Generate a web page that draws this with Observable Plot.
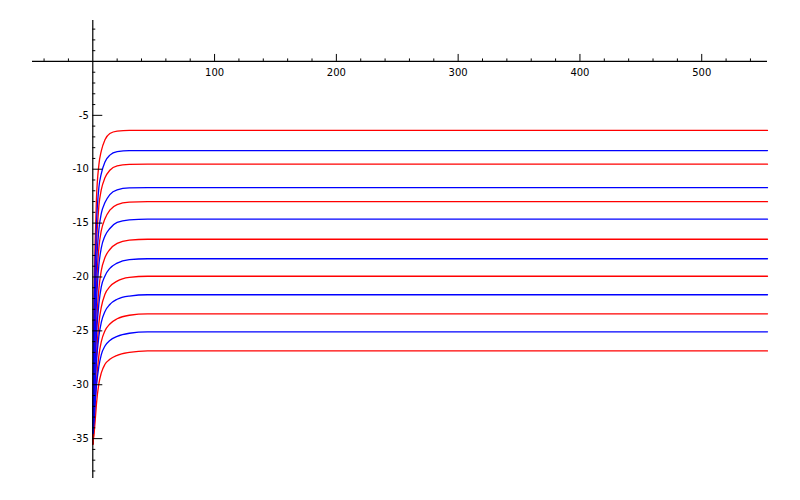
<!DOCTYPE html>
<html>
<head>
<meta charset="utf-8">
<script src="https://cdn.jsdelivr.net/npm/d3@7"></script>
<script src="https://cdn.jsdelivr.net/npm/@observablehq/plot@0.6"></script>
<style>
  html, body { margin: 0; padding: 0; background: #fff; }
  #chart { width: 800px; height: 500px; }
</style>
</head>
<body>
<div id="chart"></div>
<script>
// Sample x positions shared by all curves
const xs = [0, 1, 2, 3, 5, 7, 10, 14, 20, 30, 45, 554];

// Red curves (top to bottom)
const red1 = [-35.5, -22.4, -16.6, -12.8, -9.6, -8.3, -7.27, -6.69, -6.46, -6.4, -6.4, -6.4];
const red2 = [-35.5, -25.9, -20.4, -17.0, -13.4, -11.9, -10.8, -10.1, -9.69, -9.56, -9.53, -9.53];
const red3 = [-35.5, -28.3, -23.6, -20.9, -17.3, -15.7, -14.6, -13.8, -13.28, -13.06, -13.01, -13.01];
const red4 = [-35.5, -31.0, -27.2, -24.6, -21.1, -19.4, -18.2, -17.45, -16.88, -16.58, -16.5, -16.5];
const red5 = [-35.5, -33.2, -29.8, -27.4, -24.3, -22.8, -21.6, -20.9, -20.38, -20.04, -19.93, -19.93];
const red6 = [-35.5, -34.0, -31.6, -29.8, -27.3, -26.0, -25.0, -24.36, -23.88, -23.55, -23.42, -23.42];
const red7 = [-35.5, -34.6, -33.3, -31.8, -29.9, -28.9, -28.1, -27.64, -27.27, -27.0, -26.86, -26.86];

// Blue curves (top to bottom)
const blue1 = [-34.5, -23.8, -18.5, -15.1, -11.7, -10.4, -9.32, -8.69, -8.37, -8.27, -8.27, -8.27];
const blue2 = [-34.5, -26.7, -22.0, -19.0, -15.6, -14.1, -13.1, -12.35, -11.91, -11.74, -11.71, -11.71];
const blue3 = [-34.5, -29.2, -25.2, -22.4, -18.9, -17.3, -16.2, -15.5, -14.94, -14.7, -14.64, -14.64];
const blue4 = [-34.5, -31.3, -27.8, -25.4, -22.5, -20.9, -19.9, -19.2, -18.71, -18.39, -18.31, -18.31];
const blue5 = [-34.5, -32.6, -29.8, -27.9, -25.5, -24.2, -23.2, -22.55, -22.07, -21.77, -21.65, -21.65];
const blue6 = [-34.5, -33.5, -31.6, -30.1, -28.3, -27.2, -26.4, -25.89, -25.51, -25.22, -25.09, -25.09];

const redCurves = [red1, red2, red3, red4, red5, red6, red7];
const blueCurves = [blue1, blue2, blue3, blue4, blue5, blue6];

// Axis ticks
const xMajor = [100, 200, 300, 400, 500];
const xMinor = d3.range(-40, 554, 20).filter(v => v % 100 !== 0);
const yMajor = [-5, -10, -15, -20, -25, -30, -35];
const yMinor = d3.range(-38, 4, 1).filter(v => v % 5 !== 0);

const xDomain = [-49.5, 554];
const yDomain = [-38.7, 3.8];

const rows = [];
redCurves.forEach((c, k) => c.forEach((y, i) => rows.push({id: "r" + k, color: "red", x: xs[i], y})));
blueCurves.forEach((c, k) => c.forEach((y, i) => rows.push({id: "b" + k, color: "blue", x: xs[i], y})));

// tick lengths expressed in data units (≈ pixels / scale)
const pxX = (xDomain[1] - xDomain[0]) / (800 - 32 - 33);
const pxY = (yDomain[1] - yDomain[0]) / (500 - 20 - 22);

const chart = Plot.plot({
  width: 800,
  height: 500,
  marginLeft: 32,
  marginRight: 33,
  marginTop: 20,
  marginBottom: 22,
  x: {domain: xDomain, axis: null},
  y: {domain: yDomain, axis: null},
  style: {fontFamily: "DejaVu Sans", fontSize: "10px", background: "white"},
  marks: [
    Plot.line(rows, {x: "x", y: "y", z: "id", stroke: d => d.color === "red" ? "#ff0000" : "#0000ff", strokeWidth: 1.3, curve: "monotone-x"}),
    // axes lines
    Plot.ruleY([0], {x1: xDomain[0], x2: xDomain[1], stroke: "black", strokeWidth: 1.2}),
    Plot.ruleX([0], {y1: yDomain[0], y2: yDomain[1], stroke: "black", strokeWidth: 1.2}),
    // x ticks
    Plot.ruleX(xMajor, {y1: 0, y2: 7 * pxY, stroke: "black", strokeWidth: 1}),
    Plot.ruleX(xMinor, {y1: 0, y2: 2.5 * pxY, stroke: "black", strokeWidth: 1}),
    Plot.text(xMajor, {x: d => d, y: 0, text: d => String(d), dy: 11, textAnchor: "middle", lineAnchor: "middle", fill: "black"}),
    // y ticks
    Plot.ruleY(yMajor, {x1: 0, x2: 10 * pxX, stroke: "black", strokeWidth: 1}),
    Plot.ruleY(yMinor, {x1: 0, x2: 3 * pxX, stroke: "black", strokeWidth: 1}),
    Plot.text(yMajor, {x: 0, y: d => d, text: d => String(d), dx: -4, textAnchor: "end", lineAnchor: "middle", fill: "black"})
  ]
});
document.getElementById("chart").appendChild(chart);
</script>
</body>
</html>
